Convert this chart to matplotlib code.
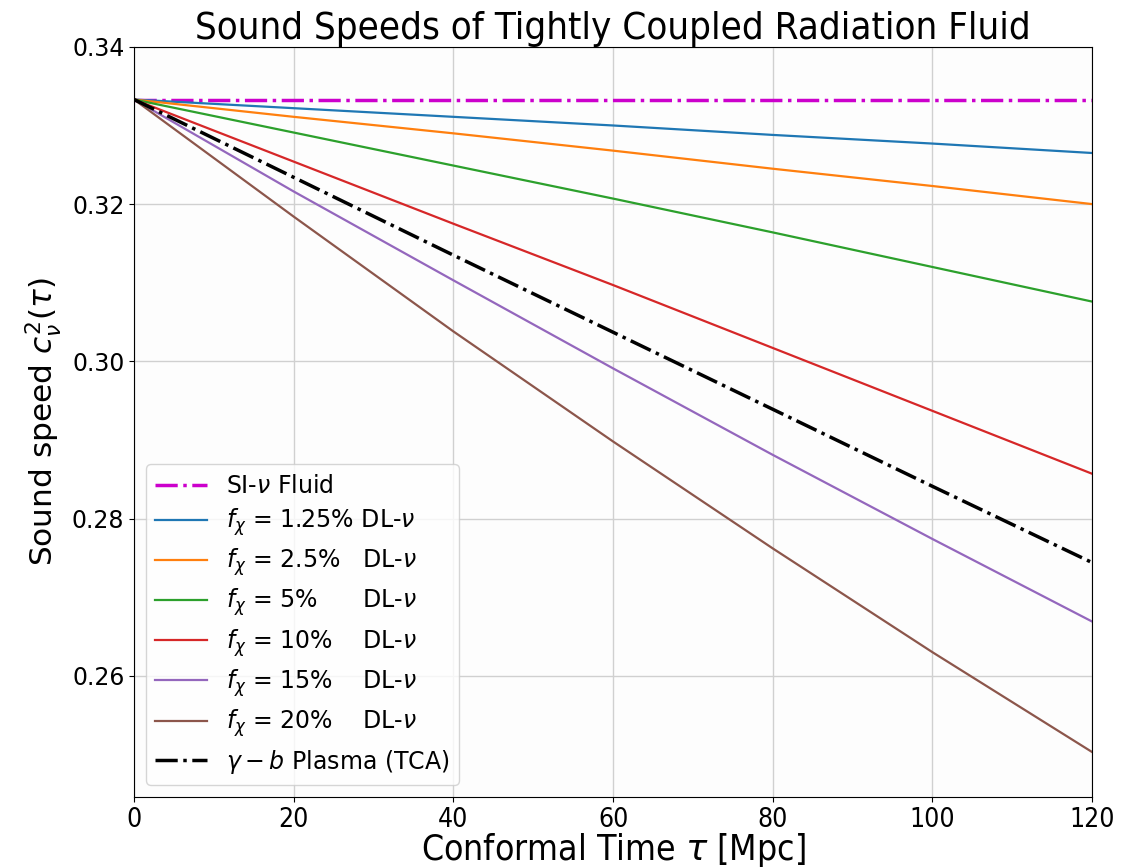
import numpy as np
import matplotlib
matplotlib.use("Agg")
from matplotlib import pyplot as plt

# conformal time grid (Mpc)
tau = [0, 20, 40, 60, 80, 100, 120]

# sound speed c^2
si_fluid = [0.3333, 0.3333, 0.3333, 0.3333, 0.3333, 0.3333, 0.3333]
f_1p25 = [0.3333, 0.3322, 0.3311, 0.3300, 0.3288, 0.3277, 0.3265]
f_2p5 = [0.3333, 0.3311, 0.3290, 0.3268, 0.3245, 0.3223, 0.3200]
f_5 = [0.3333, 0.3291, 0.3249, 0.3207, 0.3164, 0.3120, 0.3076]
f_10 = [0.3333, 0.3254, 0.3175, 0.3097, 0.3017, 0.2937, 0.2857]
f_15 = [0.3333, 0.3216, 0.3103, 0.2991, 0.2881, 0.2774, 0.2669]
f_20 = [0.3333, 0.3184, 0.3038, 0.2898, 0.2762, 0.2630, 0.2503]
tca = [0.3333, 0.3234, 0.3135, 0.3037, 0.2939, 0.2841, 0.2744]

dl_labels = [r'$f_\chi$ = 1.25% DL-$\nu$',
             r'$f_\chi$ = 2.5%   DL-$\nu$',
             r'$f_\chi$ = 5%      DL-$\nu$',
             r'$f_\chi$ = 10%    DL-$\nu$',
             r'$f_\chi$ = 15%    DL-$\nu$',
             r'$f_\chi$ = 20%    DL-$\nu$']

xticks = [0, 20, 40, 60, 80, 100, 120]
yticks = [0.26, 0.28, 0.30, 0.32, 0.34]

fig = plt.figure(figsize=(11.27, 8.68), dpi=100)
ax = fig.add_axes([0.119, 0.082, 0.850, 0.864])
ax.set_facecolor('#fdfdfd')

ax.plot(tau, si_fluid, color='#cc00cc', ls='-.', lw=2.5, label=r'SI-$\nu$ Fluid')
for vals, lab in zip([f_1p25, f_2p5, f_5, f_10, f_15, f_20], dl_labels):
    ax.plot(tau, vals, lw=1.6, label=lab)
ax.plot(tau, tca, color='k', ls='-.', lw=2.5, label=r'$\gamma-b$ Plasma (TCA)')

ax.set_xlim(0, 120)
ax.set_ylim(0.2446, 0.34)
ax.set_xticks(xticks, [str(x) for x in xticks], fontsize=19, fontstretch='condensed')
ax.set_yticks(yticks)
ax.grid(True, color='#d0d0d0', lw=1)
ax.tick_params(axis='y', labelsize=17)

ax.set_xlabel(r'Conformal Time $\tau$ [Mpc]', fontsize=25.5, fontstretch='condensed', labelpad=-1)
ax.set_ylabel(r'Sound speed $c_\nu^2(\tau)$', fontsize=22.5, labelpad=6)
ax.set_title('Sound Speeds of Tightly Coupled Radiation Fluid', fontsize=27.5,
             fontstretch='condensed', pad=6)

ax.legend(loc='lower left', fontsize=17, handlelength=2.2, labelspacing=0.36)

plt.savefig('out.png', dpi=100)
